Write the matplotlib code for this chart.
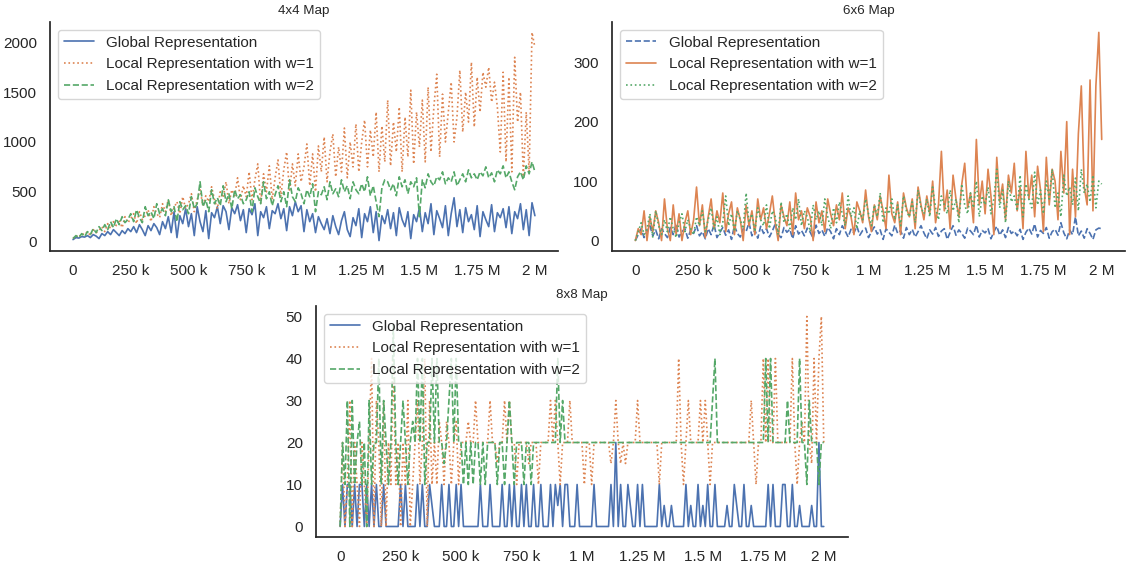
import matplotlib
matplotlib.use("Agg")
import matplotlib.pyplot as plt
from matplotlib.ticker import EngFormatter, MultipleLocator
import numpy as np
import seaborn as sns

labels = ["Global Representation",
          "Local Representation with w=1",
          "Local Representation with w=2"]

# 4x4 map, 161 evaluation points from 0 to 2M steps
global_4x4 = [
    20, 40, 35, 50, 45, 60, 40, 70, 55, 30,
    80, 60, 100, 70, 120, 90, 60, 110, 80, 130,
    100, 150, 90, 170, 120, 60, 160, 110, 180, 140,
    70, 200, 130, 250, 90, 300, 40, 260, 180, 330,
    150, 280, 60, 350, 200, 100, 310, 30, 290, 240,
    350, 180, 360, 300, 120, 340, 280, 370, 210, 320,
    90, 330, 270, 380, 60, 300, 240, 350, 130, 310,
    280, 380, 230, 330, 110, 350, 260, 400, 300, 360,
    100, 320, 200, 280, 90, 250, 180, 120, 230, 80,
    260, 150, 70, 210, 300, 120, 50, 240, 160, 330,
    40, 280, 200, 350, 90, 300, 10, 260, 180, 320,
    130, 290, 60, 340, 220, 150, 300, 30, 270, 200,
    340, 100, 290, 180, 380, 70, 310, 230, 140, 360,
    60, 280, 440, 150, 320, 90, 340, 200, 270, 120,
    360, 50, 300, 220, 150, 370, 100, 290, 240, 330,
    140, 350, 80, 300, 230, 380, 120, 320, 60, 390,
    260]
local1_4x4 = [
    30, 60, 40, 80, 70, 100, 60, 120, 90, 110,
    150, 100, 180, 130, 200, 160, 220, 140, 250, 190,
    230, 280, 180, 300, 220, 260, 320, 200, 350, 280,
    240, 380, 300, 420, 260, 340, 400, 280, 450, 330,
    380, 480, 300, 420, 520, 360, 460, 400, 550, 420,
    330, 500, 440, 600, 380, 520, 460, 640, 420, 560,
    450, 700, 420, 620, 780, 380, 680, 500, 760, 420,
    640, 820, 450, 720, 900, 500, 780, 560, 880, 600,
    750, 980, 560, 880, 500, 960, 700, 1050, 600, 900,
    1080, 650, 950, 700, 1140, 640, 1000, 750, 1180, 700,
    1000, 1220, 750, 1120, 850, 1300, 700, 1160, 800, 1420,
    760, 1200, 900, 1350, 700, 1250, 850, 1520, 780, 1300,
    950, 1420, 800, 1550, 900, 1350, 1680, 850, 1480, 1000,
    1300, 1600, 1000, 1250, 1720, 1100, 1500, 1200, 1800, 1150,
    1650, 1300, 1700, 1550, 1750, 1400, 1600, 1350, 900, 1700,
    800, 1650, 700, 1850, 1200, 1500, 650, 1300, 700, 2100,
    1950]
local2_4x4 = [
    30, 60, 40, 80, 50, 100, 70, 130, 90, 150,
    110, 170, 120, 200, 140, 230, 170, 250, 190, 220,
    280, 200, 320, 240, 190, 350, 260, 300, 230, 380,
    280, 330, 260, 420, 300, 350, 200, 400, 320, 360,
    280, 450, 330, 380, 600, 350, 420, 300, 520, 380,
    440, 360, 560, 400, 480, 330, 520, 430, 470, 380,
    420, 500, 300, 540, 450, 380, 600, 430, 500, 360,
    470, 560, 400, 500, 350, 620, 450, 400, 540, 480,
    380, 520, 450, 580, 300, 500, 470, 550, 420, 600,
    480, 530, 450, 620, 500, 560, 430, 600, 520, 480,
    580, 500, 650, 460, 560, 400, 250, 540, 620, 600,
    520, 580, 460, 650, 550, 620, 480, 600, 550, 640,
    250, 620, 540, 680, 600, 560, 650, 620, 700, 580,
    640, 600, 700, 560, 620, 680, 600, 720, 640, 680,
    620, 700, 660, 750, 640, 690, 600, 720, 680, 760,
    640, 700, 600, 520, 650, 700, 620, 760, 680, 800,
    700]

# 6x6 map
global_6x6 = [
    0, 10, 20, 5, 15, 25, 8, 18, 3, 20,
    12, 5, 22, 10, 28, 6, 15, 20, 4, 18,
    12, 25, 8, 15, 3, 20, 10, 27, 5, 14,
    22, 9, 18, 2, 25, 12, 6, 20, 15, 30,
    8, 18, 4, 24, 12, 20, 6, 16, 28, 10,
    5, 22, 14, 19, 3, 25, 11, 17, 8, 21,
    14, 4, 26, 12, 18, 7, 22, 15, 3, 20,
    10, 25, 16, 6, 19, 13, 24, 9, 17, 21,
    5, 15, 23, 11, 18, 2, 20, 14, 8, 26,
    12, 17, 4, 22, 10, 19, 6, 15, 25, 13,
    3, 18, 11, 22, 7, 16, 20, 2, 14, 25,
    9, 18, 12, 4, 21, 16, 10, 26, 6, 17,
    13, 20, 3, 15, 24, 9, 18, 5, 22, 12,
    16, 8, 19, 2, 14, 21, 11, 28, 6, 17,
    12, 22, 4, 15, 19, 9, 30, 13, 3, 18,
    10, 40, 8, 16, 4, 20, 12, 2, 18, 21,
    20]
local1_6x6 = [
    0, 20, 10, 50, 0, 40, 15, 50, 30, 0,
    70, 20, 0, 60, 10, 45, 0, 30, 50, 10,
    35, 90, 25, 60, 5, 40, 70, 20, 50, 30,
    80, 15, 45, 65, 10, 55, 35, 0, 60, 25,
    50, 10, 70, 35, 55, 20, 45, 75, 30, 0,
    60, 40, 25, 65, 10, 80, 35, 50, 20, 55,
    40, 0, 65, 30, 50, 15, 70, 45, 25, 60,
    35, 80, 20, 55, 40, 10, 65, 50, 30, 85,
    40, 15, 60, 35, 75, 50, 20, 110, 45, 30,
    65, 10, 80, 55, 40, 70, 20, 90, 60, 35,
    75, 45, 100, 30, 60, 150, 50, 85, 20, 110,
    70, 40, 95, 130, 55, 80, 30, 170, 60, 100,
    45, 120, 75, 10, 140, 65, 95, 35, 110, 80,
    130, 50, 90, 20, 150, 70, 110, 40, 125, 85,
    15, 140, 60, 120, 100, 35, 150, 80, 200, 10,
    120, 40, 180, 260, 90, 60, 270, 50, 260, 350,
    170]
local2_6x6 = [
    0, 15, 30, 10, 20, 45, 5, 50, 25, 10,
    35, 15, 40, 20, 5, 30, 45, 15, 35, 20,
    10, 40, 25, 50, 15, 35, 55, 20, 40, 10,
    30, 75, 25, 45, 15, 50, 35, 20, 80, 30,
    45, 15, 55, 35, 25, 60, 20, 50, 40, 10,
    65, 30, 45, 20, 55, 35, 70, 25, 50, 40,
    15, 60, 35, 50, 25, 70, 40, 20, 55, 30,
    65, 45, 25, 75, 40, 55, 20, 50, 35, 70,
    45, 25, 60, 40, 80, 30, 55, 45, 70, 35,
    60, 25, 75, 50, 40, 65, 30, 85, 55, 45,
    70, 40, 90, 55, 35, 75, 60, 45, 85, 50,
    70, 30, 95, 60, 45, 80, 55, 100, 40, 75,
    60, 90, 45, 70, 120, 55, 85, 30, 100, 65,
    75, 50, 110, 40, 95, 70, 55, 115, 60, 85,
    45, 100, 70, 120, 55, 80, 40, 110, 75, 90,
    60, 105, 50, 120, 80, 95, 65, 110, 55, 100,
    95]

# 8x8 map, 201 evaluation points
global_8x8 = [
    0, 10, 0, 10, 10, 0, 10, 0, 10, 10,
    0, 10, 0, 10, 0, 10, 0, 0, 10, 0,
    0, 0, 0, 0, 0, 10, 0, 10, 0, 0,
    0, 0, 10, 0, 10, 0, 0, 10, 5, 0,
    0, 0, 10, 0, 0, 10, 0, 0, 10, 0,
    10, 0, 0, 0, 0, 0, 0, 0, 10, 0,
    0, 0, 10, 0, 0, 0, 0, 10, 0, 0,
    10, 0, 10, 0, 0, 10, 0, 10, 0, 0,
    10, 0, 0, 10, 0, 0, 0, 10, 0, 10,
    5, 10, 0, 10, 10, 0, 0, 0, 10, 0,
    0, 0, 0, 0, 0, 10, 0, 0, 0, 0,
    0, 0, 10, 0, 20, 0, 10, 0, 0, 10,
    5, 0, 0, 10, 0, 10, 0, 0, 0, 0,
    0, 0, 10, 0, 5, 0, 0, 5, 0, 0,
    0, 0, 0, 10, 0, 5, 0, 0, 10, 0,
    5, 0, 10, 0, 0, 10, 0, 0, 0, 0,
    5, 0, 0, 10, 5, 0, 0, 10, 0, 0,
    5, 0, 0, 0, 0, 0, 0, 10, 0, 10,
    0, 0, 0, 10, 10, 0, 0, 10, 0, 0,
    5, 0, 0, 0, 0, 5, 0, 0, 20, 0,
    0]
local1_8x8 = [
    0, 20, 0, 10, 30, 0, 20, 10, 0, 20,
    10, 0, 20, 40, 0, 30, 20, 0, 30, 0,
    20, 10, 40, 10, 20, 0, 20, 10, 30, 0,
    10, 20, 30, 10, 20, 40, 0, 30, 10, 20,
    10, 25, 20, 10, 25, 20, 10, 20, 25, 10,
    20, 20, 20, 25, 20, 20, 30, 20, 20, 20,
    20, 20, 30, 20, 20, 15, 20, 20, 30, 20,
    30, 20, 20, 10, 20, 20, 20, 20, 15, 20,
    20, 20, 10, 20, 20, 20, 20, 30, 20, 30,
    20, 10, 20, 20, 20, 30, 20, 20, 20, 20,
    20, 10, 20, 20, 10, 20, 20, 20, 20, 20,
    20, 20, 15, 20, 30, 20, 15, 20, 15, 20,
    20, 20, 20, 30, 20, 20, 20, 20, 20, 20,
    20, 20, 10, 20, 20, 20, 20, 20, 20, 20,
    40, 20, 10, 20, 30, 20, 20, 20, 20, 30,
    20, 30, 20, 10, 20, 20, 20, 20, 20, 20,
    20, 20, 20, 20, 20, 20, 20, 20, 20, 20,
    30, 20, 10, 20, 20, 40, 20, 40, 20, 20,
    40, 20, 20, 20, 20, 20, 20, 40, 20, 10,
    20, 25, 20, 50, 20, 15, 40, 20, 40, 50,
    20]
local2_8x8 = [
    0, 20, 10, 30, 0, 30, 10, 20, 25, 10,
    20, 0, 30, 10, 20, 20, 40, 10, 30, 20,
    10, 20, 48, 20, 10, 20, 30, 20, 10, 20,
    25, 20, 40, 20, 40, 10, 20, 20, 40, 20,
    40, 20, 20, 15, 20, 30, 40, 20, 40, 20,
    20, 10, 20, 10, 20, 10, 20, 20, 10, 20,
    10, 20, 20, 20, 20, 10, 20, 20, 10, 20,
    30, 20, 10, 20, 20, 20, 10, 20, 20, 10,
    20, 20, 20, 20, 20, 20, 20, 20, 20, 20,
    40, 20, 30, 20, 20, 20, 20, 20, 20, 20,
    20, 20, 20, 20, 20, 20, 20, 20, 20, 20,
    20, 20, 20, 20, 20, 20, 20, 20, 20, 20,
    20, 20, 20, 20, 20, 20, 20, 20, 20, 20,
    20, 20, 20, 20, 20, 20, 20, 20, 20, 20,
    20, 20, 20, 20, 20, 20, 20, 20, 20, 20,
    20, 20, 20, 20, 30, 40, 20, 20, 20, 20,
    20, 20, 20, 20, 20, 20, 20, 20, 20, 20,
    20, 20, 20, 20, 20, 20, 40, 20, 40, 20,
    20, 20, 20, 20, 20, 30, 20, 20, 20, 20,
    40, 20, 20, 10, 30, 20, 20, 20, 10, 20,
    20]

steps_top = np.linspace(0, 2_000_000, len(global_4x4))
steps_bottom = np.linspace(0, 2_000_000, len(global_8x8))

sns.set_theme(style="white")
plt.rcParams['font.family'] = ['Liberation Sans', 'DejaVu Sans']

blue, orange, green = sns.color_palette("deep")[:3]


def draw_panel(ax, x, series, styles, title):
    for y, color, ls, label in zip(series, (blue, orange, green), styles, labels):
        ax.plot(x, y, linestyle=ls, color=color, lw=1.2, label=label)
    ax.set_title(title, fontsize=9.6)
    ax.xaxis.set_major_locator(MultipleLocator(250_000))
    ax.xaxis.set_major_formatter(EngFormatter())
    ax.tick_params(labelsize=11)
    ax.legend(loc="upper left", fontsize=11)
    sns.despine(ax=ax)


fig = plt.figure(figsize=(11.3, 5.62), dpi=100)
ax1 = fig.add_axes([0.0442, 0.5534, 0.4496, 0.4075])
ax2 = fig.add_axes([0.5416, 0.5534, 0.4540, 0.4075])
ax3 = fig.add_axes([0.2796, 0.0445, 0.4708, 0.4110])

draw_panel(ax1, steps_top, [global_4x4, local1_4x4, local2_4x4],
           ["-", ":", "--"], "4x4 Map")
draw_panel(ax2, steps_top, [global_6x6, local1_6x6, local2_6x6],
           ["--", "-", ":"], "6x6 Map")
draw_panel(ax3, steps_bottom, [global_8x8, local1_8x8, local2_8x8],
           ["-", ":", "--"], "8x8 Map")

fig.savefig("out.png", dpi=100)
